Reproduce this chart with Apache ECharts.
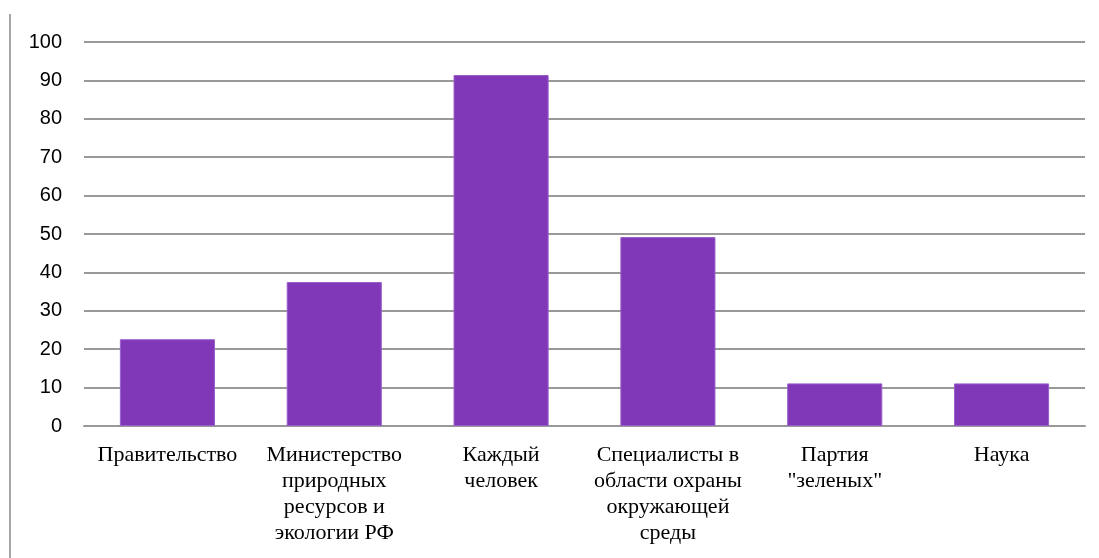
<!DOCTYPE html>
<html><head><meta charset="utf-8">
<script src="https://cdn.jsdelivr.net/npm/echarts@6/dist/echarts.min.js"></script>
<style>html,body{margin:0;padding:0;background:#fff}#c{width:1099px;height:558px}</style>
</head><body><div id="c"></div>
<script>
const categories = [
  'Правительство',
  'Министерство\nприродных\nресурсов и\nэкологии РФ',
  'Каждый\nчеловек',
  'Специалисты в\nобласти охраны\nокружающей\nсреды',
  'Партия\n"зеленых"',
  'Наука'
];
const values = [22.6, 37.5, 91.4, 49.2, 11.1, 11.1];
const yTicks = [0, 10, 20, 30, 40, 50, 60, 70, 80, 90, 100];

const chart = echarts.init(document.getElementById('c'), null, {renderer: 'canvas'});
chart.setOption({
  animation: false,
  backgroundColor: '#ffffff',
  grid: {left: 84, right: 14, top: 42, bottom: 132},
  graphic: [{
    type: 'line',
    shape: {x1: 10, y1: 14, x2: 10, y2: 558},
    style: {stroke: '#a6a6a6', lineWidth: 2}
  }],
  xAxis: {
    type: 'category',
    data: categories,
    axisLine: {show: true, lineStyle: {color: '#999999', width: 2}},
    axisTick: {show: false},
    axisLabel: {
      interval: 0,
      margin: 16,
      color: '#000000',
      fontFamily: '"Liberation Serif", "DejaVu Serif", serif',
      fontSize: 22,
      lineHeight: 26,
      align: 'center'
    }
  },
  yAxis: {
    type: 'value',
    min: yTicks[0],
    max: yTicks[yTicks.length - 1],
    interval: 10,
    axisLine: {show: false},
    axisTick: {show: false},
    splitLine: {lineStyle: {color: '#999999', width: 2}},
    axisLabel: {
      margin: 22,
      color: '#000000',
      fontFamily: '"Liberation Sans", Arial, sans-serif',
      fontSize: 20
    }
  },
  series: [{
    type: 'bar',
    data: values,
    barWidth: '57%',
    itemStyle: {color: '#8038B8', borderColor: '#9a5fcb', borderWidth: 1}
  }]
});
</script>
</body></html>
